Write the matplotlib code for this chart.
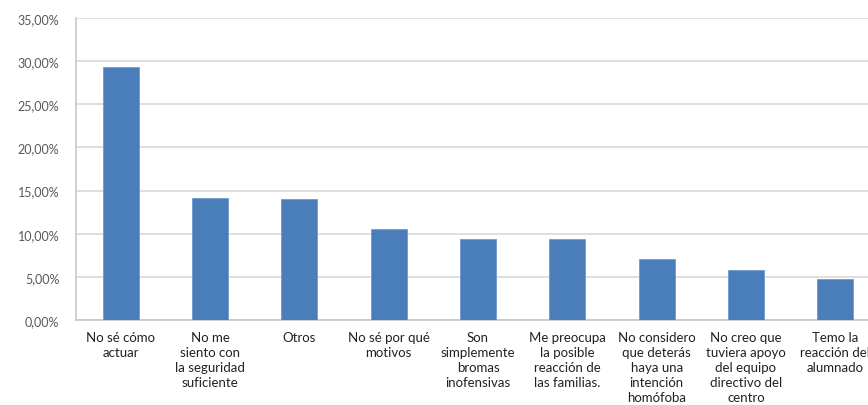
import numpy as np
import matplotlib.pyplot as plt
from matplotlib.ticker import FuncFormatter

# motivos y porcentaje de respuestas
motivos = [
    "No sé cómo\nactuar",
    "No me\nsiento con\nla seguridad\nsuficiente",
    "Otros",
    "No sé por qué\nmotivos",
    "Son\nsimplemente\nbromas\ninofensivas",
    "Me preocupa\nla posible\nreacción de\nlas familias.",
    "No considero\nque deterás\nhaya una\nintención\nhomófoba",
    "No creo que\ntuviera apoyo\ndel equipo\ndirectivo del\ncentro",
    "Temo la\nreacción del\nalumnado",
]
porcentajes = [29.35, 14.15, 14.05, 10.55, 9.4, 9.4, 7.1, 5.8, 4.75]

plt.rcParams["font.family"] = ["Lato", "DejaVu Sans"]

fig = plt.figure(figsize=(8.68, 4.06), dpi=100)
# el área de trazado sigue más allá del borde derecho
ax = fig.add_axes([76 / 868, 1 - 321 / 406, 804 / 868, 302 / 406])

x = np.arange(len(motivos))
ax.bar(x, porcentajes, width=0.4, color="#4a7ebb", edgecolor="#6f9bd0", linewidth=0.6, zorder=3)

ax.set_xlim(-0.5, len(motivos) - 0.5)
ax.set_ylim(0, 35)
ax.set_yticks(np.arange(0, 36, 5))
ax.yaxis.set_major_formatter(FuncFormatter(lambda v, p: f"{v:.2f}%".replace(".", ",")))
ax.set_xticks(x)
ax.set_xticklabels(motivos, fontsize=9.5, color="#222222", linespacing=1.3)

ax.grid(axis="y", color="#d9d9d9", linewidth=1.2, zorder=0)
for s in ["top", "right"]:
    ax.spines[s].set_visible(False)
ax.spines["left"].set_color("#c8c8c8")
ax.spines["bottom"].set_color("#c8c8c8")
ax.spines["left"].set_linewidth(1.2)
ax.spines["bottom"].set_linewidth(1.2)

ax.tick_params(axis="y", length=0, pad=12, labelsize=9, labelcolor="#595959")
ax.tick_params(axis="x", length=0, pad=8)

fig.savefig("out.png", dpi=100)
